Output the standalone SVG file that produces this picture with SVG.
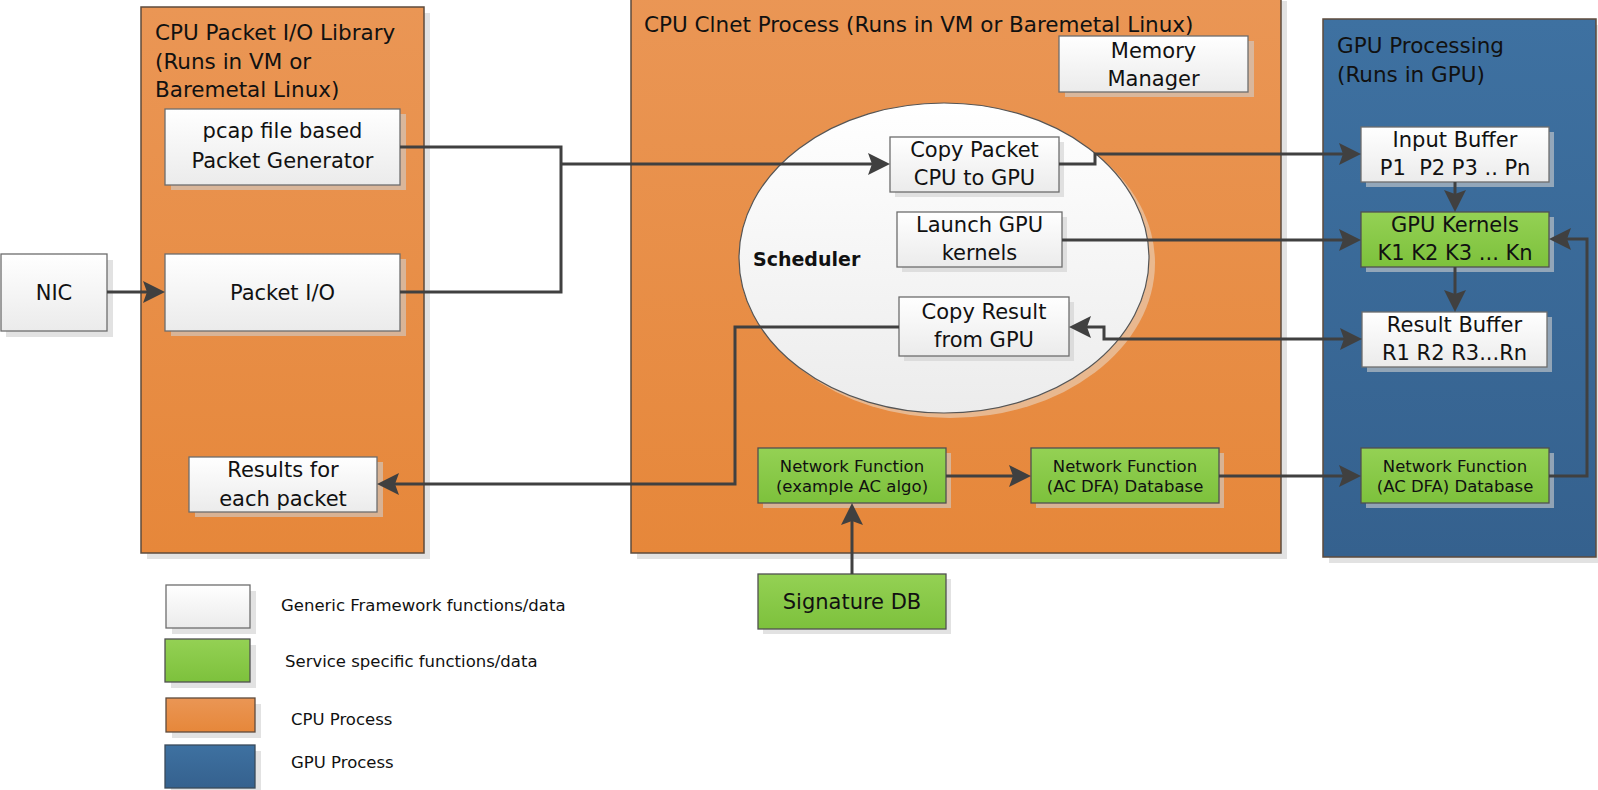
<svg xmlns="http://www.w3.org/2000/svg" width="1598" height="790" viewBox="0 0 1598 790">
<style>
.t{font-family:"DejaVu Sans","Open Sans",sans-serif;fill:#111}
.b{font-size:21px}
.h{font-size:21.5px}
.s{font-size:16.5px}
.c{text-anchor:middle}
.sh{fill:#cfcfcf;opacity:0.6}
.wb{fill:url(#gW);stroke:#6d6d6d;stroke-width:1.3}
.gb{fill:url(#gG);stroke:#505050;stroke-width:1.3}
.cont{stroke:#5e4b3c;stroke-width:1.5}
.ln{fill:none;stroke:#404040;stroke-width:3}
.ar{marker-end:url(#ah)}
</style>
<defs>
<linearGradient id="gW" x1="0" y1="0" x2="0" y2="1"><stop offset="0" stop-color="#ffffff"/><stop offset="1" stop-color="#ebebeb"/></linearGradient>
<linearGradient id="gG" x1="0" y1="0" x2="0" y2="1"><stop offset="0" stop-color="#94d154"/><stop offset="1" stop-color="#7dc13c"/></linearGradient>
<linearGradient id="gO" x1="0" y1="0" x2="0" y2="1"><stop offset="0" stop-color="#ea9655"/><stop offset="1" stop-color="#e6873a"/></linearGradient>
<linearGradient id="gB" x1="0" y1="0" x2="0" y2="1"><stop offset="0" stop-color="#3e71a1"/><stop offset="1" stop-color="#35618e"/></linearGradient>
<linearGradient id="gE" x1="0" y1="0" x2="0" y2="1"><stop offset="0" stop-color="#ffffff"/><stop offset="1" stop-color="#ececec"/></linearGradient>
<marker id="ah" markerUnits="userSpaceOnUse" markerWidth="24" markerHeight="24" refX="16" refY="11" orient="auto-start-reverse" viewBox="0 0 24 22">
<path d="M0,0 L22,11 L0,22 L4,11 z" fill="#404040"/>
</marker>
</defs>

<!-- containers -->
<g id="cpu-io-library">
<rect class="sh" x="147" y="13" width="283" height="546"/>
<rect class="cont" x="141" y="7" width="283" height="546" fill="url(#gO)"/>
<text class="t h" x="155" y="40">CPU Packet I/O Library</text>
<text class="t h" x="155" y="68.5">(Runs in VM or</text>
<text class="t h" x="155" y="97">Baremetal Linux)</text>
</g>
<g id="cpu-clnet-process">
<rect class="sh" x="637" y="1" width="650" height="558"/>
<rect class="cont" x="631" y="-5" width="650" height="558" fill="url(#gO)"/>
<text class="t h" x="644" y="32">CPU Clnet Process (Runs in VM or Baremetal Linux)</text>
</g>
<g id="gpu-processing">
<rect class="sh" x="1329" y="25" width="273" height="538"/>
<rect class="cont" x="1323" y="19" width="273" height="538" fill="url(#gB)" stroke="#3a4a5a"/>
<text class="t h" x="1337" y="53">GPU Processing</text>
<text class="t h" x="1337" y="82">(Runs in GPU)</text>
</g>

<g id="scheduler">
<ellipse cx="950" cy="263" rx="205" ry="155" fill="#e8c3a2" opacity="0.8"/>
<ellipse cx="944" cy="258" rx="205" ry="155" fill="url(#gE)" stroke="#555" stroke-width="1.2"/>
<text class="t" x="753" y="266" font-size="19" font-weight="bold">Scheduler</text>
</g>

<!-- nodes -->
<g id="nic">
<rect class="sh" x="6" y="260" width="107" height="77"/>
<rect class="wb" x="1" y="254" width="106" height="77"/>
<text class="t b c" x="54" y="300">NIC</text>
</g>
<g id="pcap-generator">
<rect class="sh" x="171" y="114" width="235" height="76"/>
<rect class="wb" x="165" y="109" width="235" height="76"/>
<text class="t b c" x="282.5" y="138">pcap file based</text>
<text class="t b c" x="282.5" y="168">Packet Generator</text>
</g>
<g id="packet-io">
<rect class="sh" x="171" y="259" width="235" height="77"/>
<rect class="wb" x="165" y="254" width="235" height="77"/>
<text class="t b c" x="282.5" y="300">Packet I/O</text>
</g>
<g id="results-each-packet">
<rect class="sh" x="195" y="462" width="188" height="55"/>
<rect class="wb" x="189" y="457" width="188" height="55"/>
<text class="t b c" x="283" y="477">Results for</text>
<text class="t b c" x="283" y="506">each packet</text>
</g>
<g id="memory-manager">
<rect class="sh" x="1065" y="41" width="189" height="56"/>
<rect class="wb" x="1059" y="36" width="189" height="56"/>
<text class="t b c" x="1153.5" y="58">Memory</text>
<text class="t b c" x="1153.5" y="86">Manager</text>
</g>
<g id="copy-packet">
<rect class="sh" x="895" y="142" width="169" height="55"/>
<rect class="wb" x="890" y="137" width="169" height="55"/>
<text class="t b c" x="974.5" y="157">Copy Packet</text>
<text class="t b c" x="974.5" y="185">CPU to GPU</text>
</g>
<g id="launch-kernels">
<rect class="sh" x="902" y="217" width="165" height="55"/>
<rect class="wb" x="897" y="212" width="165" height="55"/>
<text class="t b c" x="979.5" y="232">Launch GPU</text>
<text class="t b c" x="979.5" y="260">kernels</text>
</g>
<g id="copy-result">
<rect class="sh" x="904" y="302" width="170" height="59"/>
<rect class="wb" x="899" y="297" width="170" height="59"/>
<text class="t b c" x="984" y="319">Copy Result</text>
<text class="t b c" x="984" y="347">from GPU</text>
</g>
<g id="input-buffer">
<rect class="sh" x="1366" y="132" width="188" height="55"/>
<rect class="wb" x="1361" y="127" width="188" height="55"/>
<text class="t b c" x="1455" y="147">Input Buffer</text>
<text class="t b c" x="1455" y="175" xml:space="preserve">P1  P2 P3 .. Pn</text>
</g>
<g id="gpu-kernels">
<rect class="sh" x="1366" y="217" width="188" height="55"/>
<rect class="gb" x="1361" y="212" width="188" height="55"/>
<text class="t b c" x="1455" y="232">GPU Kernels</text>
<text class="t b c" x="1455" y="260">K1 K2 K3 ... Kn</text>
</g>
<g id="result-buffer">
<rect class="sh" x="1367" y="317" width="185" height="55"/>
<rect class="wb" x="1362" y="312" width="185" height="55"/>
<text class="t b c" x="1454.5" y="332">Result Buffer</text>
<text class="t b c" x="1454.5" y="360">R1 R2 R3...Rn</text>
</g>
<g id="nf-example">
<rect class="sh" x="763" y="453" width="188" height="55"/>
<rect class="gb" x="758" y="448" width="188" height="55"/>
<text class="t s c" x="852" y="472">Network Function</text>
<text class="t s c" x="852" y="492">(example AC algo)</text>
</g>
<g id="nf-db-cpu">
<rect class="sh" x="1036" y="453" width="188" height="55"/>
<rect class="gb" x="1031" y="448" width="188" height="55"/>
<text class="t s c" x="1125" y="472">Network Function</text>
<text class="t s c" x="1125" y="492">(AC DFA) Database</text>
</g>
<g id="nf-db-gpu">
<rect class="sh" x="1366" y="453" width="188" height="55"/>
<rect class="gb" x="1361" y="448" width="188" height="55"/>
<text class="t s c" x="1455" y="472">Network Function</text>
<text class="t s c" x="1455" y="492">(AC DFA) Database</text>
</g>
<g id="signature-db">
<rect class="sh" x="763" y="579" width="188" height="55"/>
<rect class="gb" x="758" y="574" width="188" height="55"/>
<text class="t b c" x="852" y="609">Signature DB</text>
</g>

<!-- connectors -->
<g id="connectors">
<path class="ln ar" d="M107,292 H159"/>
<path class="ln" d="M400,147 H561 V292 H400"/>
<path class="ln ar" d="M561,164 H884"/>
<path class="ln ar" d="M1059,164 H1095 V154 H1355"/>
<path class="ln ar" d="M1062,240 H1355"/>
<path class="ln ar" style="marker-start:url(#ah)" d="M1075,327 H1104 V339 H1356"/>
<path class="ln ar" d="M899,327 H735 V484 H383"/>
<path class="ln ar" d="M1455,182 V206"/>
<path class="ln ar" d="M1455,267 V306"/>
<path class="ln ar" d="M946,476 H1025"/>
<path class="ln ar" d="M1219,476 H1355"/>
<path class="ln ar" d="M1549,476 H1587 V239 H1555"/>
<path class="ln ar" d="M852,574 V509"/>
</g>

<!-- legend -->
<g id="legend">
<rect class="sh" x="172" y="591" width="84" height="43"/>
<rect class="wb" x="166" y="585" width="84" height="43"/>
<text class="t s" x="281" y="611">Generic Framework functions/data</text>
<rect class="sh" x="171" y="645" width="85" height="43"/>
<rect class="gb" x="165" y="639" width="85" height="43"/>
<text class="t s" x="285" y="667">Service specific functions/data</text>
<rect class="sh" x="172" y="704" width="89" height="34"/>
<rect x="166" y="698" width="89" height="34" fill="url(#gO)" stroke="#5e4b3c" stroke-width="1.3"/>
<text class="t s" x="291" y="725">CPU Process</text>
<rect class="sh" x="171" y="751" width="90" height="43"/>
<rect x="165" y="745" width="90" height="43" fill="url(#gB)" stroke="#3a4a5a" stroke-width="1.3"/>
<text class="t s" x="291" y="768">GPU Process</text>
</g>
</svg>
